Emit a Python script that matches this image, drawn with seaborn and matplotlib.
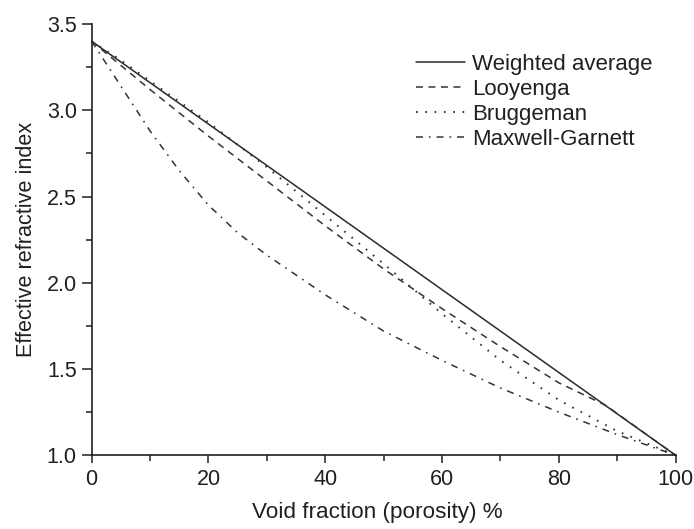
import numpy as np
import pandas as pd
import matplotlib
matplotlib.use("Agg")
import matplotlib.pyplot as plt
from matplotlib.ticker import MultipleLocator, AutoMinorLocator
import seaborn as sns

# values
wa_x = [0, 100]
wa_y = [3.40, 1.00]

loo_x = [0, 10, 20, 30, 40, 50, 60, 70, 80, 88, 100]
loo_y = [3.40, 3.12, 2.85, 2.59, 2.33, 2.08, 1.85, 1.63, 1.42, 1.29, 1.00]

brug_x = [0, 5, 10, 20, 30, 40, 50, 60, 70, 80, 90, 95, 100]
brug_y = [3.40, 3.29, 3.17, 2.93, 2.67, 2.39, 2.11, 1.82, 1.55, 1.32, 1.14, 1.07, 1.00]

mg_x = [0, 5, 10, 15, 20, 25, 30, 40, 50, 60, 70, 80, 90, 100]
mg_y = [3.40, 3.14, 2.88, 2.65, 2.45, 2.29, 2.16, 1.93, 1.72, 1.55, 1.39, 1.25, 1.12, 1.00]

labels = ["Weighted average", "Looyenga", "Bruggeman", "Maxwell-Garnett"]

sns.set_style("ticks")
plt.rcParams["font.family"] = ["Liberation Sans", "DejaVu Sans"]
plt.rcParams["lines.scale_dashes"] = False
txt = "#231f20"
plt.rcParams["text.color"] = txt
plt.rcParams["axes.labelcolor"] = txt
plt.rcParams["xtick.color"] = txt
plt.rcParams["ytick.color"] = txt
plt.rcParams["axes.edgecolor"] = txt

fig = plt.figure(figsize=(6.94, 5.29), dpi=100)
ax = fig.add_axes([0.1321, 0.1393, 0.8415, 0.8153])

series = [
    (wa_x, wa_y, "-", "#2a2a2a", 1.1),
    (loo_x, loo_y, (0, (5, 4)), "#333333", 1.1),
    (brug_x, brug_y, (0, (1.2, 5.5)), "#333333", 1.4),
    (mg_x, mg_y, (0, (5, 4.3, 1.2, 4.3)), "#333333", 1.1),
]
for (xs, ys, ls, c, lw), lab in zip(series, labels):
    sns.lineplot(x=xs, y=ys, ax=ax, color=c, linestyle=ls, linewidth=lw,
                 label=lab, clip_on=False)

ax.set_xlim(0, 100)
ax.set_ylim(1.0, 3.5)
ax.xaxis.set_major_locator(MultipleLocator(20))
ax.xaxis.set_minor_locator(AutoMinorLocator(2))
ax.yaxis.set_major_locator(MultipleLocator(0.5))
ax.yaxis.set_minor_locator(AutoMinorLocator(2))
ax.yaxis.set_major_formatter(matplotlib.ticker.FormatStrFormatter("%.1f"))
ax.tick_params(which="major", length=7.2, width=1.1, labelsize=15.5, pad=3.5)
ax.tick_params(which="minor", length=4.2, width=1.1)
ax.tick_params(axis="x", which="major", length=6)
ax.tick_params(axis="x", which="minor", length=4)
for s in ["left", "bottom"]:
    ax.spines[s].set_linewidth(1.2)
sns.despine(ax=ax)

ax.set_xlabel("Void fraction (porosity) %", fontsize=16.2)
ax.xaxis.set_label_coords(0.4885, -0.1094)
ax.set_ylabel("Effective refractive index", fontsize=15.6, labelpad=7)

leg = ax.legend(loc="upper left", bbox_to_anchor=(0.555, 0.931), frameon=False,
                fontsize=16, handlelength=2.2, handletextpad=0.32,
                labelspacing=0.18, borderpad=0, borderaxespad=0)

fig.savefig("out.png", dpi=100)
